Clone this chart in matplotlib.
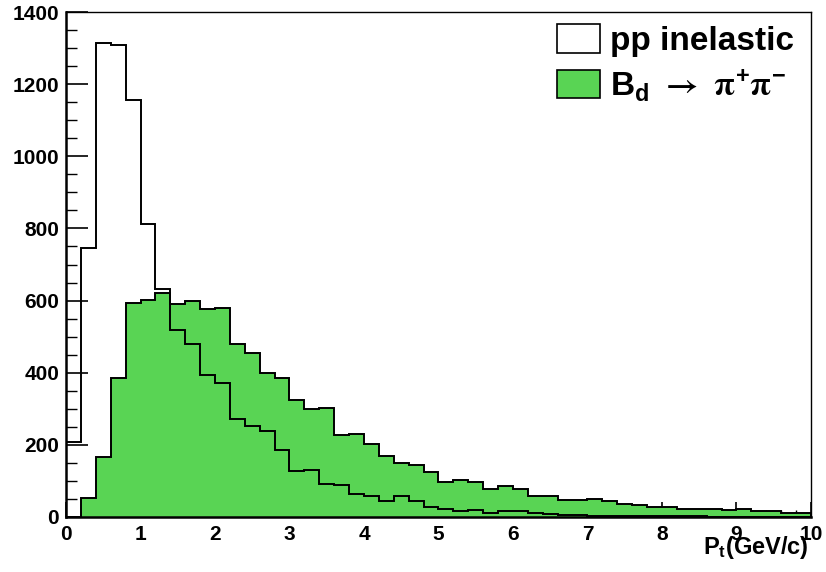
import numpy as np
import matplotlib.pyplot as plt
from matplotlib.patches import Patch
from matplotlib.ticker import MultipleLocator

plt.rcParams['font.family'] = 'Liberation Sans'
plt.rcParams['font.weight'] = 'bold'
plt.rcParams['mathtext.fontset'] = 'custom'
plt.rcParams['mathtext.rm'] = 'STIXGeneral'
plt.rcParams['mathtext.bf'] = 'Liberation Sans:bold'
plt.rcParams['mathtext.it'] = 'Liberation Sans:bold'
plt.rcParams['mathtext.sf'] = 'Liberation Sans:bold'

# transverse momentum, 50 bins of 0.2 GeV/c
edges = np.linspace(0, 10, 51)

pp_inelastic = [207, 745, 1313, 1309, 1155, 811, 633, 519, 480, 394,
                371, 273, 252, 238, 185, 127, 129, 91, 89, 63,
                59, 44, 59, 43, 27, 22, 17, 20, 12, 17,
                17, 10, 7, 6, 5, 4, 4, 3, 3, 2,
                2, 2, 2, 1, 1, 1, 1, 1, 1, 1]

bd_pipi = [0, 52, 166, 384, 594, 602, 621, 590, 599, 578,
           580, 479, 455, 398, 384, 325, 300, 301, 226, 230,
           203, 169, 150, 145, 125, 97, 102, 97, 78, 86,
           77, 58, 57, 46, 46, 49, 43, 37, 34, 28,
           28, 22, 22, 22, 20, 22, 18, 18, 12, 10]

green = '#59d454'

fig = plt.figure(figsize=(8.26, 5.72), dpi=100)
ax = fig.add_axes([66/826, 1 - 517/572, 745/826, 505/572])

ax.stairs(bd_pipi, edges, fill=True, facecolor=green, edgecolor='black',
          linewidth=1.4, zorder=2)
ax.stairs(pp_inelastic, edges, color='black', linewidth=1.4, baseline=0,
          zorder=3)

ax.set_xlim(0, 10)
ax.set_ylim(0, 1400)

ax.xaxis.set_major_locator(MultipleLocator(1))
ax.xaxis.set_minor_locator(MultipleLocator(0.2))
ax.yaxis.set_major_locator(MultipleLocator(200))
ax.yaxis.set_minor_locator(MultipleLocator(50))
ax.tick_params(axis='x', which='major', direction='in', length=10.8, width=1.2,
               pad=6, labelsize=15)
ax.tick_params(axis='x', which='minor', direction='in', length=5.4, width=1.0)
ax.tick_params(axis='y', which='major', direction='in', length=15.8, width=1.2,
               pad=5, labelsize=15)
ax.tick_params(axis='y', which='minor', direction='in', length=7.9, width=1.0)
for lab in ax.get_xticklabels() + ax.get_yticklabels():
    lab.set_fontweight('bold')

for side in ['left', 'bottom']:
    ax.spines[side].set_linewidth(1.8)
for side in ['top', 'right']:
    ax.spines[side].set_linewidth(1.0)

ax.set_xlabel(r'$\mathbf{P}_{\mathbf{t}}$(GeV/c)', fontsize=17,
              fontweight='bold', ha='right', va='top')
ax.xaxis.set_label_coords(0.997, -0.033)

handles = [Patch(facecolor='white', edgecolor='black', linewidth=1.2),
           Patch(facecolor=green, edgecolor='black', linewidth=1.2)]
labels = ['pp inelastic',
          r'$\mathbf{B}_{\mathbf{d}}\ \rightarrow\ \mathrm{\pi}^{\mathbf{+}}\mathrm{\pi}^{\mathbf{-}}$']
ax.legend(handles, labels, loc='upper right', frameon=False,
          prop={'family': 'Liberation Sans', 'weight': 'bold', 'size': 24},
          handlelength=1.3, handleheight=0.95, handletextpad=0.3,
          labelspacing=0.3, borderaxespad=0.1, bbox_to_anchor=(1.0, 1.009))

fig.savefig('out.png', dpi=100)
